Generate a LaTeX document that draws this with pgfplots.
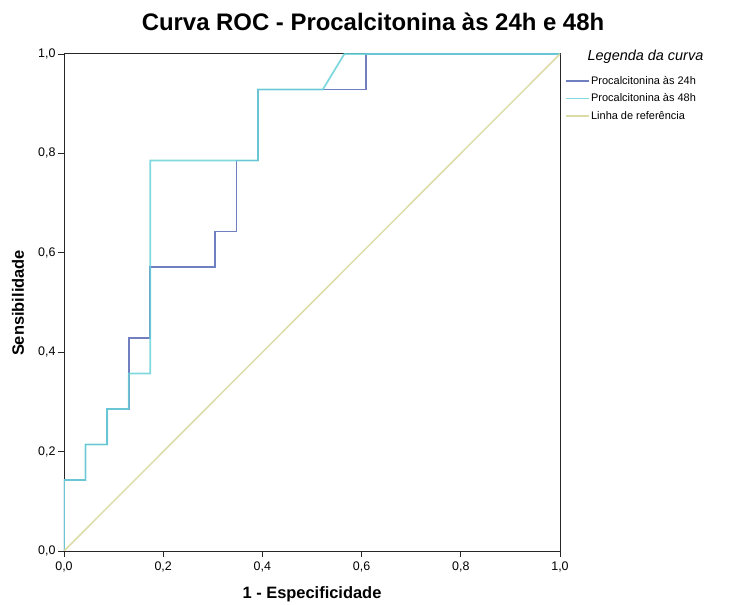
\documentclass[border=0pt]{standalone}
\usepackage{fontspec}
\setmainfont{Liberation Sans}
\usepackage{pgfplots}
\pgfplotsset{compat=1.18}

\definecolor{c24}{HTML}{6F7FC0}
\definecolor{c48}{HTML}{6AD2D8}
\definecolor{cref}{HTML}{DCDCA8}

\begin{document}
\begin{tikzpicture}
\begin{axis}[
    scale only axis,
    width=496bp, height=497bp,
    xmin=0, xmax=1, ymin=0, ymax=1,
    xtick={0,0.2,...,1}, ytick={0,0.2,...,1},
    tick align=outside,
    xtick pos=bottom, ytick pos=left,
    major tick length=6bp,
    axis line style={black!85, line width=1pt},
    tick style={black!85, line width=0.9pt},
    tick label style={font=\fontsize{12.5}{14}\selectfont},
    xticklabel style={yshift=-1bp},
    yticklabel style={xshift=1bp},
    /pgf/number format/.cd, use comma, fixed, fixed zerofill, precision=1, assume math mode=true,
    /pgfplots/.cd,
    legend style={at={(1.01,0.959)}, anchor=north west, draw=none, fill=none,
        font=\fontsize{11}{13}\selectfont, row sep=5bp, inner sep=0pt,
        nodes={inner sep=1.5bp}},
    legend cell align=left,
    legend image code/.code={\draw[#1] (0cm,0cm) -- (0.8cm,0cm);},
]
\addplot[c24, line width=1.8pt] coordinates {
(0,0) (0,0.142857) (0.043478,0.142857) (0.043478,0.214286) (0.086957,0.214286)
(0.086957,0.285714) (0.130435,0.285714) (0.130435,0.428571) (0.173913,0.428571)
(0.173913,0.571429) (0.304348,0.571429) (0.304348,0.642857) (0.347826,0.642857)
(0.347826,0.785714) (0.391304,0.785714) (0.391304,0.928571) (0.608696,0.928571)
(0.608696,1) (1,1)};
\addlegendentry{Procalcitonina às 24h}
\addplot[c48, line width=1.8pt, opacity=0.85] coordinates {
(0,0) (0,0.142857) (0.043478,0.142857) (0.043478,0.214286) (0.086957,0.214286)
(0.086957,0.285714) (0.130435,0.285714) (0.130435,0.357143) (0.173913,0.357143)
(0.173913,0.785714) (0.391304,0.785714) (0.391304,0.928571) (0.521739,0.928571)
(0.565217,1) (1,1)};
\addlegendentry{Procalcitonina às 48h}
\addplot[cref, line width=1.5pt] coordinates {(0,0) (1,1)};
\addlegendentry{Linha de referência}
\end{axis}
\node at (309bp,529bp) {\fontsize{24}{28}\selectfont\bfseries Curva ROC - Procalcitonina às 24h e 48h};
\node[rotate=90] at (-46bp,248bp) {\fontsize{16.5}{20}\selectfont\bfseries Sensibilidade};
\node at (248bp,-43bp) {\fontsize{16.5}{20}\selectfont\bfseries 1 - Especificidade};
\node at (581.5bp,494bp) {\fontsize{14.5}{17}\selectfont\itshape Legenda da curva};
\path[use as bounding box] (-64bp,-48bp) rectangle (665bp,551bp);
\end{tikzpicture}
\end{document}
